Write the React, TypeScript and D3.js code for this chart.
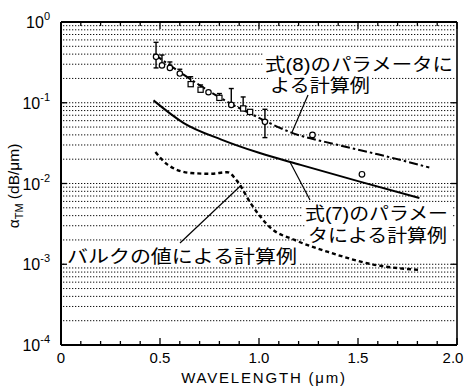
import React from "react";
import * as d3 from "d3";

// ---- data ----
const xTickLabels = ["0", "0.5", "1.0", "1.5", "2.0"];
const xTickValues = [0, 0.5, 1.0, 1.5, 2.0];
const yDecades = [0, -1, -2, -3, -4];

// measured points with error bars
const measX = [0.48, 0.51, 0.55, 0.6, 0.655, 0.705, 0.745, 0.8, 0.86, 0.92, 0.955, 1.03];
const measY = [0.37, 0.29, 0.27, 0.23, 0.17, 0.145, 0.135, 0.115, 0.094, 0.085, 0.077, 0.058];
const measHi = [0.56, 0.39, 0.32, 0.26, 0.21, 0.166, 0.135, 0.13, 0.15, 0.118, 0.077, 0.083];
const measLo = [0.27, 0.29, 0.27, 0.23, 0.17, 0.145, 0.135, 0.115, 0.094, 0.085, 0.077, 0.037];
const measShape = ["o", "o", "o", "o", "s", "s", "o", "s", "o", "s", "s", "o"];

// isolated circles
const extraX = [1.27, 1.52];
const extraY = [0.04, 0.013];

// 式(8) curve (dash-dot)
const eq8X = [0.47, 0.6, 0.8, 1.0, 1.16, 1.4, 1.6, 1.86];
const eq8Y = [0.4, 0.24, 0.117, 0.065, 0.043, 0.03, 0.023, 0.0158];

// 式(7) curve (solid)
const eq7X = [0.467, 0.62, 0.81, 1.0, 1.21, 1.5, 1.81];
const eq7Y = [0.107, 0.056, 0.035, 0.024, 0.017, 0.0107, 0.0066];

// bulk curve (dashed)
const bulkX = [0.477, 0.54, 0.655, 0.756, 0.84, 0.89, 0.96, 1.06, 1.18, 1.365, 1.57, 1.81];
const bulkY = [0.0245, 0.017, 0.0135, 0.0132, 0.0138, 0.0107, 0.0056, 0.0028, 0.002, 0.00138, 0.001, 0.00085];

const label8 = ["式(8)のパラメータに", "よる計算例"];
const label7 = ["式(7)のパラメー", "タによる計算例"];
const labelBulk = "バルクの値による計算例";

// ---- layout ----
const W = 467;
const H = 387;
const L = 61, R = 457, T = 22, B = 345;

const x = d3.scaleLinear().domain([0, 2]).range([L, R]);
const y = d3.scaleLog().domain([1e-4, 1]).range([B, T]);

const cjk = "'Liberation Sans', 'Noto Sans CJK JP', sans-serif";
const latin = "'Liberation Sans', 'DejaVu Sans', sans-serif";

function App() {
  const line = d3
    .line<[number, number]>()
    .x((d) => x(d[0]))
    .y((d) => y(d[1]))
    .curve(d3.curveMonotoneX);

  const eq8 = line(eq8X.map((v, i) => [v, eq8Y[i]] as [number, number])) || "";
  const eq7 = line(eq7X.map((v, i) => [v, eq7Y[i]] as [number, number])) || "";
  const bulk = line(bulkX.map((v, i) => [v, bulkY[i]] as [number, number])) || "";

  // grid values
  const gridVals: number[] = [];
  for (let e = -4; e < 0; e++) {
    for (let k = 1; k <= 9; k++) {
      if (e === -4 && k === 1) continue;
      gridVals.push(k * Math.pow(10, e));
    }
  }

  const xMinor = d3.range(0, 2.0001, 0.1);

  const textBox = (x0: number, y0: number, w: number, h: number, key: string) => (
    <rect key={key} x={x0} y={y0} width={w} height={h} fill="white" />
  );

  return (
    <svg width={W} height={H} style={{ display: "block", position: "absolute", left: 0, top: 0 }}>
      <rect x={0} y={0} width={W} height={H} fill="white" />
      {/* grid */}
      {gridVals.map((v, i) => (
        <line
          key={"g" + i}
          x1={L + 2}
          x2={R - 1}
          y1={y(v)}
          y2={y(v)}
          stroke="#111"
          strokeWidth={1}
          strokeDasharray="1.3,1.7"
        />
      ))}

      {/* label backgrounds */}
      {textBox(263, 53, 194, 21, "b1")}
      {textBox(268, 74, 104, 22, "b2")}
      {textBox(302, 202, 150, 21, "b3")}
      {textBox(306, 223, 146, 22, "b4")}
      {textBox(64, 245, 236, 21, "b5")}

      {/* curves */}
      <path d={eq8} fill="none" stroke="#000" strokeWidth={2} strokeDasharray="9,3,2.5,3" />
      <path d={eq7} fill="none" stroke="#000" strokeWidth={2} />
      <path d={bulk} fill="none" stroke="#000" strokeWidth={2.4} strokeDasharray="4,3" />

      {/* error bars and markers */}
      {measX.map((v, i) => {
        const cx = x(v);
        const hi = y(measHi[i]);
        const lo = y(measLo[i]);
        const cy = y(measY[i]);
        return (
          <g key={"m" + i}>
            {hi < cy - 0.5 && (
              <>
                <line x1={cx} x2={cx} y1={hi} y2={cy} stroke="#000" strokeWidth={1.4} />
                <line x1={cx - 2.5} x2={cx + 2.5} y1={hi} y2={hi} stroke="#000" strokeWidth={1.4} />
              </>
            )}
            {lo > cy + 0.5 && (
              <>
                <line x1={cx} x2={cx} y1={cy} y2={lo} stroke="#000" strokeWidth={1.4} />
                <line x1={cx - 2.5} x2={cx + 2.5} y1={lo} y2={lo} stroke="#000" strokeWidth={1.4} />
              </>
            )}
            {measShape[i] === "s" ? (
              <rect x={cx - 2.6} y={cy - 2.6} width={5.2} height={5.2} fill="white" stroke="#000" strokeWidth={1.2} />
            ) : (
              <circle cx={cx} cy={cy} r={2.7} fill="white" stroke="#000" strokeWidth={1.2} />
            )}
          </g>
        );
      })}
      {extraX.map((v, i) => (
        <circle key={"e" + i} cx={x(v)} cy={y(extraY[i])} r={2.8} fill="white" stroke="#000" strokeWidth={1.2} />
      ))}

      {/* leader lines */}
      <line x1={308} y1={95} x2={292} y2={y(0.043)} stroke="#000" strokeWidth={1.2} />
      <line x1={310} y1={200} x2={290} y2={y(0.0185)} stroke="#000" strokeWidth={1.2} />
      <line x1={180} y1={243} x2={x(0.91)} y2={y(0.0095)} stroke="#000" strokeWidth={1.2} />

      {/* labels */}
      <g fontFamily={cjk} fontSize={18} fill="#000">
        <text x={265} y={71} textLength={188} lengthAdjust="spacingAndGlyphs">{label8[0]}</text>
        <text x={270} y={92} textLength={100} lengthAdjust="spacingAndGlyphs">{label8[1]}</text>
        <text x={305} y={220} textLength={143} lengthAdjust="spacingAndGlyphs">{label7[0]}</text>
        <text x={308} y={242} textLength={139} lengthAdjust="spacingAndGlyphs">{label7[1]}</text>
        <text x={67} y={263} textLength={230} lengthAdjust="spacingAndGlyphs">{labelBulk}</text>
      </g>

      {/* x ticks bottom & top */}
      {xMinor.map((v, i) => {
        const major = i % 5 === 0;
        const len = major ? 7 : 4;
        return (
          <g key={"xt" + i}>
            <line x1={x(v)} x2={x(v)} y1={B} y2={B - len} stroke="#000" strokeWidth={1.3} />
            <line x1={x(v)} x2={x(v)} y1={T} y2={T + len} stroke="#000" strokeWidth={1.3} />
          </g>
        );
      })}
      {/* y ticks */}
      {yDecades.map((e) => (
        <g key={"yt" + e}>
          <line x1={L} x2={L + 6} y1={y(Math.pow(10, e))} y2={y(Math.pow(10, e))} stroke="#000" strokeWidth={1.3} />
          <line x1={R} x2={R - 6} y1={y(Math.pow(10, e))} y2={y(Math.pow(10, e))} stroke="#000" strokeWidth={1.3} />
        </g>
      ))}

      {/* frame */}
      <line x1={L} x2={L} y1={T} y2={B} stroke="#000" strokeWidth={2} />
      <line x1={R} x2={R} y1={T} y2={B} stroke="#000" strokeWidth={1.6} />
      <line x1={L} x2={R} y1={B} y2={B} stroke="#000" strokeWidth={2} />
      <line x1={L} x2={R} y1={T} y2={T} stroke="#000" strokeWidth={2} />

      {/* y tick labels */}
      <g fontFamily={latin} fill="#000">
        {yDecades.map((e) => (
          <text key={"yl" + e} x={50} y={y(Math.pow(10, e)) + 6} textAnchor="end" fontSize={16}>
            10
            <tspan dy={-8} fontSize={11}>{e === 0 ? "0" : "-" + Math.abs(e)}</tspan>
          </text>
        ))}
      </g>
      {/* x tick labels */}
      <g fontFamily={latin} fontSize={15} fill="#000">
        {xTickValues.map((v, i) => (
          <text key={"xl" + i} x={x(v) - (i === 4 ? 4 : 0)} y={363} textAnchor="middle">
            {xTickLabels[i]}
          </text>
        ))}
        <text x={264} y={383} textAnchor="middle" fontSize={15} letterSpacing={1.8}>
          WAVELENGTH (μm)
        </text>
      </g>
      {/* y title */}
      <text
        transform="translate(19,186) rotate(-90)"
        textAnchor="middle"
        fontFamily={latin}
        fontSize={15.5}
        fill="#000"
      >
        α<tspan dy={4} fontSize={11}>TM</tspan>
        <tspan dy={-4}> (dB/μm)</tspan>
      </text>
    </svg>
  );
}

export default App;
